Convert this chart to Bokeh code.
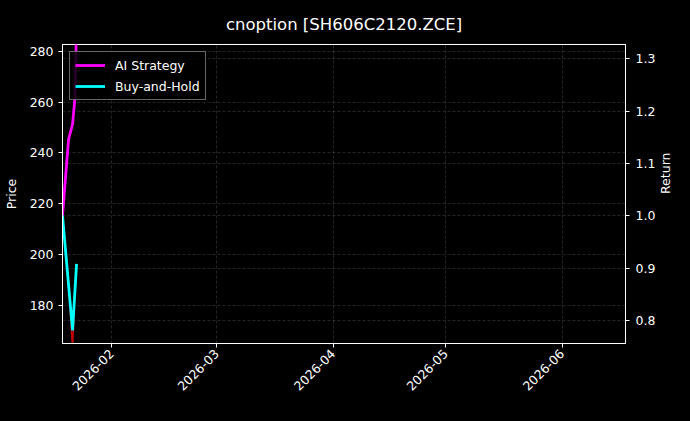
from datetime import datetime
from bokeh.plotting import figure
from bokeh.models import (Range1d, LinearAxis, FixedTicker, PrintfTickFormatter,
                          DatetimeTickFormatter, Grid, Legend, LegendItem)
from bokeh.embed import file_html
from bokeh.resources import INLINE
import math

# ---- data ----
dates = [datetime(2026, 1, 18, 22, 0), datetime(2026, 1, 20, 12, 45),
         datetime(2026, 1, 21, 14, 20), datetime(2026, 1, 22, 5, 0),
         datetime(2026, 1, 22, 16, 0)]
price = [215.2, 188.1, 163.0, 185.1, 196.2]
ai_return = [1.0, 1.146, 1.175, 1.222, 1.36]
bh_return = [1.0, 0.868, 0.781, 0.854, 0.908]

month_ticks = [datetime(2026, 2, 1), datetime(2026, 3, 1), datetime(2026, 4, 1),
               datetime(2026, 5, 1), datetime(2026, 6, 1)]
price_ticks = [180, 200, 220, 240, 260, 280]
return_ticks = [0.8, 0.9, 1.0, 1.1, 1.2, 1.3]

x_start = datetime(2026, 1, 18, 22, 0)
x_end = datetime(2026, 6, 17, 22, 0)
price_range = (165.1, 282.6)
return_range = (0.756, 1.327)

EPOCH = datetime(1970, 1, 1)
def ms(d):
    return (d - EPOCH).total_seconds() * 1000.0

FONT = "DejaVu Sans"
FS = "12.5px"

p = figure(x_axis_type="datetime",
           frame_width=563, frame_height=299,
           min_border_left=59, min_border_right=52,
           min_border_top=44, min_border_bottom=60,
           x_range=Range1d(x_start, x_end),
           y_range=Range1d(*price_range),
           output_backend="svg", toolbar_location=None,
           background_fill_color="black", border_fill_color="black",
           outline_line_color="white", outline_line_width=1,
           title="cnoption [SH606C2120.ZCE]")

p.title.text_color = "white"
p.title.text_font = FONT
p.title.text_font_size = "16.5px"
p.title.text_font_style = "normal"
p.title.align = "center"
p.title.standoff = 22

p.extra_y_ranges = {"ret": Range1d(*return_range)}

# glyphs: price first (under), then strategy lines
p.line(dates, price, line_color="#c80000", line_width=1.5)
r_ai = p.line(dates, ai_return, line_color="#ff00ff", line_width=2.8, y_range_name="ret")
r_bh = p.line(dates, bh_return, line_color="#00ffff", line_width=2.8, y_range_name="ret")

def style_axis(ax):
    ax.axis_line_color = "white"
    ax.major_tick_line_color = "white"
    ax.minor_tick_line_color = None
    ax.major_tick_out = 4
    ax.major_tick_in = 0
    ax.major_label_text_color = "white"
    ax.major_label_text_font = FONT
    ax.major_label_text_font_size = FS
    ax.axis_label_text_color = "white"
    ax.axis_label_text_font = FONT
    ax.axis_label_text_font_size = FS
    ax.axis_label_text_font_style = "normal"

xa = p.xaxis[0]
xa.ticker = FixedTicker(ticks=[ms(d) for d in month_ticks])
xa.formatter = DatetimeTickFormatter(months="%Y-%m", days="%Y-%m", hours="%Y-%m",
                                     years="%Y-%m")
xa.major_label_orientation = math.pi / 4
xa.major_label_standoff = 4
style_axis(xa)

ya = p.yaxis[0]
ya.ticker = FixedTicker(ticks=price_ticks)
ya.formatter = PrintfTickFormatter(format="%d")
ya.axis_label = "Price"
ya.major_label_standoff = 5
ya.axis_label_standoff = 8
style_axis(ya)

ra = LinearAxis(y_range_name="ret", ticker=FixedTicker(ticks=return_ticks),
                formatter=PrintfTickFormatter(format="%.1f"), axis_label="Return")
ra.major_label_standoff = 6
ra.axis_label_standoff = 7
ra.axis_label_orientation = math.pi / 2
style_axis(ra)
p.add_layout(ra, "right")

for g in (p.xgrid[0], p.ygrid[0]):
    g.grid_line_color = "#8a8a8a"
    g.grid_line_alpha = 0.45
    g.grid_line_width = 0.6
    g.grid_line_dash = "3 2"

rg = Grid(dimension=1, axis=ra, y_range_name="ret",
          grid_line_color="#8a8a8a", grid_line_alpha=0.45,
          grid_line_width=0.6, grid_line_dash="3 2")
p.add_layout(rg)

legend = Legend(items=[LegendItem(label="AI Strategy", renderers=[r_ai]),
                       LegendItem(label="Buy-and-Hold", renderers=[r_bh])],
                location="top_left", margin=7, padding=5, spacing=5,
                glyph_height=16, glyph_width=30, label_height=16,
                label_standoff=10,
                background_fill_color="black", background_fill_alpha=0.85,
                border_line_color="#cccccc", border_line_width=1,
                label_text_color="white", label_text_font=FONT,
                label_text_font_size=FS)
p.add_layout(legend)

html = file_html(p, INLINE)
html = html.replace("<head>", "<head><style>html,body{background:#000;}</style>", 1)
open("out.html", "w").write(html)
